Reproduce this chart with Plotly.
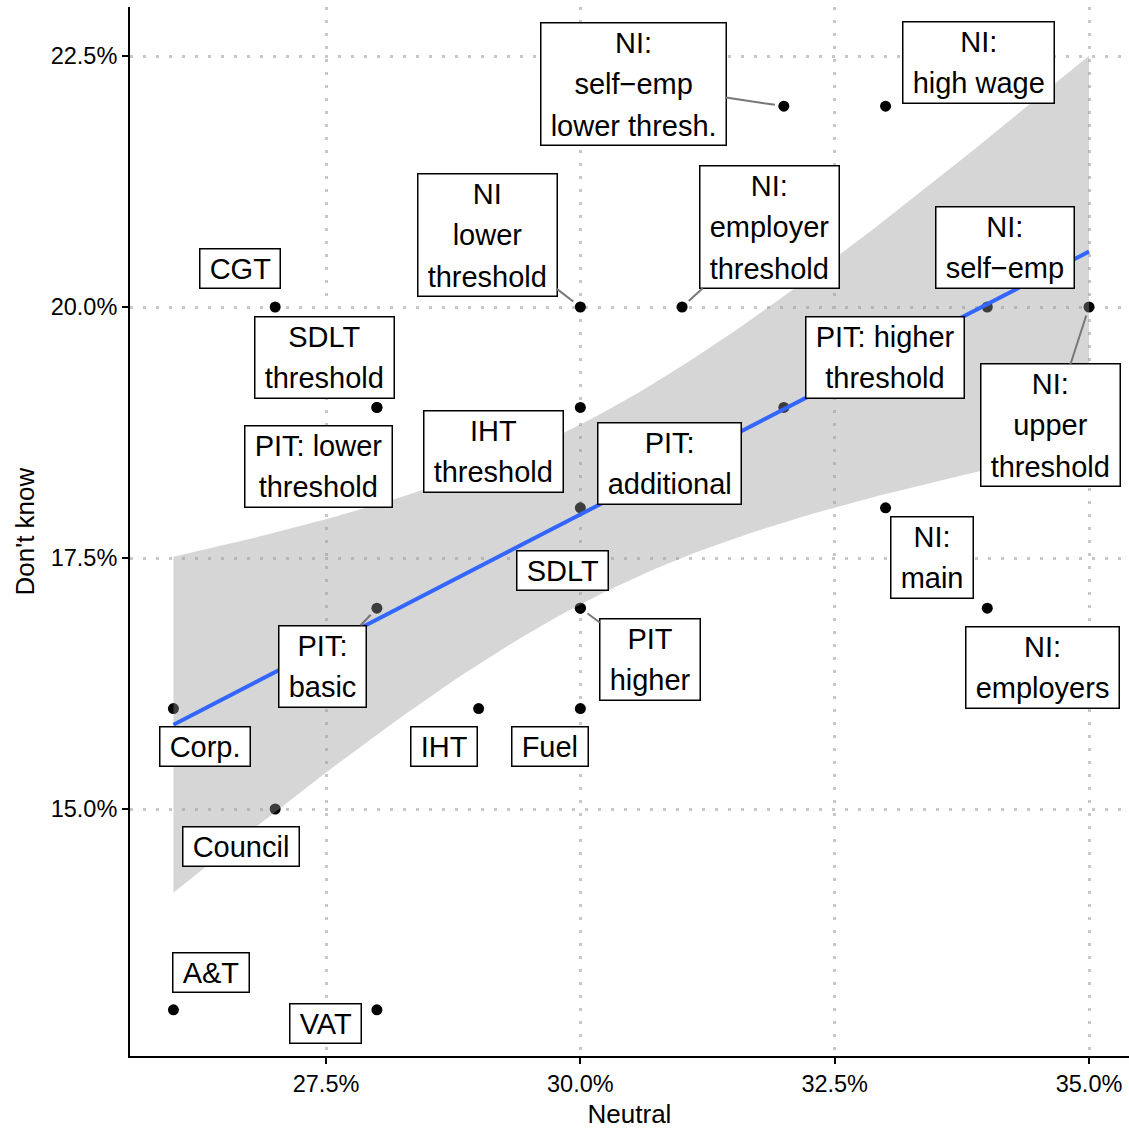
import numpy as np
import plotly.graph_objects as go

# Survey shares (%) per tax item: "Neutral" vs "Don't know"
labels = [
    "CGT", "SDLT\nthreshold", "PIT: lower\nthreshold", "IHT\nthreshold",
    "NI\nlower\nthreshold", "NI:\nself−emp\nlower thresh.", "NI:\nhigh wage",
    "NI:\nemployer\nthreshold", "NI:\nself−emp", "PIT: higher\nthreshold",
    "NI:\nupper\nthreshold", "PIT:\nadditional", "SDLT", "NI:\nmain",
    "NI:\nemployers", "PIT\nhigher", "PIT:\nbasic", "Corp.", "IHT", "Fuel",
    "Council", "A&T", "VAT",
]
neutral = [27, 28, 28, 30, 30, 32, 33, 31, 34, 32, 35, 30, 30, 33, 34, 30,
           28, 26, 29, 30, 27, 26, 28]
dont_know = [20, 19, 19, 19, 20, 22, 22, 20, 20, 19, 20, 18, 17, 18, 17, 17,
             17, 16, 16, 16, 15, 13, 13]

# Repelled label centres (data units) and which labels get a leader segment
label_x = [26.655, 27.480, 27.421, 29.147, 29.083, 30.518, 33.909, 31.864,
           34.170, 32.990, 34.622, 30.881, 29.825, 33.457, 34.543, 30.685,
           27.461, 26.311, 28.655, 29.702, 26.660, 26.365, 27.495]
label_y = [20.383, 19.502, 18.416, 18.556, 20.717, 22.226, 22.440, 20.797,
           20.588, 19.497, 18.820, 18.441, 17.371, 17.505, 16.414, 16.489,
           16.424, 15.627, 15.627, 15.618, 14.626, 13.367, 12.859]
with_segment = {"NI\nlower\nthreshold", "NI:\nself−emp\nlower thresh.",
                "NI:\nemployer\nthreshold", "NI:\nupper\nthreshold",
                "PIT\nhigher", "PIT:\nbasic"}

x_ticks = [27.5, 30.0, 32.5, 35.0]
y_ticks = [15.0, 17.5, 20.0, 22.5]

# Linear fit with 95% confidence band
X = np.array(neutral, dtype=float)
Y = np.array(dont_know, dtype=float)
n = len(X)
slope, intercept = np.polyfit(X, Y, 1)
resid = Y - (intercept + slope * X)
s = np.sqrt(np.sum(resid ** 2) / (n - 2))
sxx = np.sum((X - X.mean()) ** 2)
t_crit = 2.079614  # qt(0.975, df = 21)
xs = np.linspace(X.min(), X.max(), 80)
fit = intercept + slope * xs
se = s * np.sqrt(1.0 / n + (xs - X.mean()) ** 2 / sxx)
lo, hi = fit - t_crit * se, fit + t_crit * se

FONT = "Liberation Sans"

fig = go.Figure()
fig.add_trace(go.Scatter(x=neutral, y=dont_know, mode="markers",
                         marker=dict(color="black", size=11),
                         hoverinfo="skip", showlegend=False))
fig.add_trace(go.Scatter(x=np.concatenate([xs, xs[::-1]]),
                         y=np.concatenate([hi, lo[::-1]]),
                         fill="toself", fillcolor="rgba(153,153,153,0.4)",
                         line=dict(width=0), mode="lines",
                         hoverinfo="skip", showlegend=False))
fig.add_trace(go.Scatter(x=xs, y=fit, mode="lines",
                         line=dict(color="#3366FF", width=4),
                         hoverinfo="skip", showlegend=False))


def boxed(txt):
    pad = "<span style='font-size:22px'>&nbsp;</span>"
    return "<br>".join(
        pad + "<span style='font-size:29px'>" + line.replace("&", "&amp;") + "</span>" + pad
        for line in txt.split("\n"))


annotations = []
for lab, px, py, lx, ly in zip(labels, neutral, dont_know, label_x, label_y):
    common = dict(text=boxed(lab), font=dict(family=FONT, size=32, color="black"),
                  align="center", bgcolor="white", bordercolor="black",
                  borderwidth=1.5, borderpad=3, xanchor="center", yanchor="middle")
    if lab in with_segment:
        annotations.append(dict(x=px, y=py, xref="x", yref="y", ax=lx, ay=ly,
                                axref="x", ayref="y", showarrow=True, arrowhead=0,
                                arrowwidth=2, arrowcolor="#777777", standoff=9,
                                **common))
    else:
        annotations.append(dict(x=lx, y=ly, xref="x", yref="y", showarrow=False,
                                **common))

# y-axis title, set at the left edge of the page
annotations.append(dict(text="Don't know", xref="paper", yref="paper", x=0, y=0.5,
                        xanchor="center", yanchor="middle", xshift=-106, textangle=-90,
                        showarrow=False, font=dict(family=FONT, size=26, color="black")))

axis_common = dict(showline=True, linecolor="black", linewidth=2, ticks="outside",
                   ticklen=6, tickwidth=2, tickcolor="black", showgrid=True,
                   gridcolor="#c8c8c8", gridwidth=2.5, griddash="3px,10px",
                   zeroline=False, tickmode="array",
                   tickfont=dict(family=FONT, size=23.5, color="black"))

fig.update_layout(
    width=1129, height=1129,
    margin=dict(l=130, r=0, t=7, b=73),
    paper_bgcolor="white", plot_bgcolor="white",
    annotations=annotations,
    xaxis=dict(range=[25.573, 35.393], tickvals=x_ticks,
               ticktext=[f"{v:.1f}%" for v in x_ticks],
               title=dict(text="Neutral", font=dict(family=FONT, size=26, color="black")),
               **axis_common),
    yaxis=dict(range=[12.540, 22.988], tickvals=y_ticks,
               ticktext=[f"{v:.1f}%" for v in y_ticks],
               **axis_common),
)

fig.write_html("out.html")
